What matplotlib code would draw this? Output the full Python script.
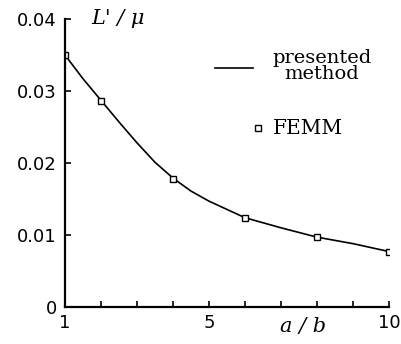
import numpy as np
import matplotlib
matplotlib.use("Agg")
import matplotlib.pyplot as plt

plt.rcParams['font.family'] = 'DejaVu Sans'

# curve of the presented method
ratio_line = [1, 1.5, 2, 2.5, 3, 3.5, 4, 4.5, 5, 6, 7, 8, 9, 10]
ind_line = [0.0350, 0.0317, 0.0287, 0.0257, 0.0228, 0.0201, 0.0179, 0.0161,
            0.0147, 0.0124, 0.0110, 0.0097, 0.0088, 0.0077]

# FEMM points
ratio_femm = [1, 2, 4, 6, 8, 10]
ind_femm = [0.0350, 0.0286, 0.0178, 0.0124, 0.0097, 0.0077]

xticks = list(range(1, 11))
xticklabels = ['1', '', '', '', '5', '', '', '', '', '10']
yticks = [0, 0.01, 0.02, 0.03, 0.04]
yticklabels = ['0', '0.01', '0.02', '0.03', '0.04']

fig = plt.figure(figsize=(4.01, 3.44), dpi=100)
ax = fig.add_axes([65/401, 1-307/344, (389-65)/401, (307-19)/344])

ax.plot(ratio_line, ind_line, '-', color='k', lw=1.2)
ax.plot(ratio_femm, ind_femm, 's', color='k', mfc='white', mew=1.0, ms=4)

ax.set_xlim(1, 10)
ax.set_ylim(0, 0.04)
ax.set_xticks(xticks)
ax.set_xticklabels(xticklabels)
ax.set_yticks(yticks)
ax.set_yticklabels(yticklabels)
ax.tick_params(direction='in', length=4.5, width=1.2, labelsize=13, color='k')
ax.tick_params(axis='x', pad=5)
ax.tick_params(axis='y', pad=6)

for s in ['top', 'right']:
    ax.spines[s].set_visible(False)
for s in ['left', 'bottom']:
    ax.spines[s].set_linewidth(1.6)

# axis titles
ax.text(0.08, 1.0, "L' / \u03bc", transform=ax.transAxes, fontsize=15,
        family='DejaVu Serif', style='italic', va='center', ha='left')
fig.text(303/401, 1-326/344, "a / b", fontsize=15, family='DejaVu Serif',
         style='italic', ha='center', va='center')

# legend drawn by hand
fig.add_artist(plt.Line2D([215/401, 253/401], [1-68/344, 1-68/344], color='k', lw=1.2))
fig.text(322/401, 1-66/344, "presented\nmethod", fontsize=14, family='DejaVu Serif',
         ha='center', va='center', linespacing=0.85)
fig.add_artist(plt.Line2D([258/401], [1-128/344], marker='s', color='k', mfc='white',
                          mew=1.0, ms=4))
fig.text(273/401, 1-128/344, "FEMM", fontsize=14.5, family='DejaVu Serif',
         ha='left', va='center')

fig.savefig("out.png", dpi=100)
